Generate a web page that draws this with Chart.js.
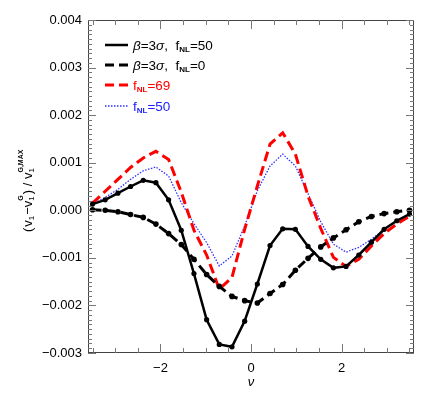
<!DOCTYPE html>
<html>
<head>
<meta charset="utf-8">
<script src="https://cdn.jsdelivr.net/npm/chart.js@4.4.0/dist/chart.umd.min.js"></script>
<style>
  html, body { margin: 0; padding: 0; background: #fff; }
</style>
</head>
<body>
<canvas id="nuChart" width="436" height="393"></canvas>
<script>
  // nu grid of the curves
  var nuValues = [-3.50, -3.22, -2.94, -2.66, -2.38, -2.10, -1.82, -1.54, -1.26, -0.98, -0.70, -0.42, -0.14,
                   0.14,  0.42,  0.70,  0.98,  1.26,  1.54,  1.82,  2.10,  2.38,  2.66,  2.94,  3.22,  3.50];

  // values in units of 1e-3
  var beta3fnl50 = [0.13, 0.22, 0.36, 0.50, 0.63, 0.58, 0.22, -0.42, -1.33, -2.30, -2.82, -2.87, -2.33,
                    -1.55, -0.74, -0.39, -0.40, -0.76, -1.03, -1.21, -1.18, -0.94, -0.67, -0.40, -0.22, -0.08];
  var beta3fnl0  = [0.01, 0.00, -0.03, -0.09, -0.15, -0.29, -0.49, -0.72, -1.03, -1.35, -1.60, -1.81, -1.90,
                    -1.95, -1.75, -1.56, -1.26, -1.01, -0.77, -0.58, -0.41, -0.24, -0.13, -0.07, -0.03, 0.00];
  var fnl69      = [0.15, 0.40, 0.65, 0.90, 1.10, 1.24, 1.07, 0.38, -0.42, -0.94, -1.66, -1.41, -0.40,
                    0.51, 1.39, 1.63, 1.18, 0.30, -0.38, -0.99, -1.18, -1.03, -0.75, -0.49, -0.29, -0.12];
  var fnl50      = [0.12, 0.27, 0.44, 0.65, 0.83, 0.91, 0.72, 0.16, -0.28, -0.68, -1.17, -0.96, -0.33,
                    0.41, 0.93, 1.18, 0.93, 0.35, -0.24, -0.71, -0.88, -0.78, -0.61, -0.40, -0.22, -0.08];

  var xTicks = [-2, 0, 2];
  var yTicks = [-3, -2, -1, 0, 1, 2, 3, 4];

  var FONT = '"Liberation Sans", Arial, sans-serif';

  function pts(arr) {
    return arr.map(function (v, i) { return { x: nuValues[i], y: v }; });
  }

  function minus(s) { return s.replace('-', '\u2212'); }

  // draw a run of text pieces (for sub/superscripts)
  function drawRich(ctx, x, y, parts) {
    parts.forEach(function (p) {
      ctx.font = p.font;
      ctx.fillStyle = p.color;
      ctx.fillText(p.t, x, y + (p.dy || 0));
      var w = ctx.measureText(p.t).width;
      if (p.sup) {
        ctx.font = p.sup.font;
        ctx.fillText(p.sup.t, x, y + p.sup.dy);
        w = Math.max(w, ctx.measureText(p.sup.t).width);
      }
      x += w + (p.gap || 0);
    });
  }

  function fnlParts(prefix, val, color) {
    var f = '13.5px ' + FONT, it = 'italic 13.5px ' + FONT, sm = 'bold 8px ' + FONT;
    var out = [];
    if (prefix) {
      out.push({ t: '\u03b2', font: it, color: color });
      out.push({ t: '=3', font: f, color: color });
      out.push({ t: '\u03c3', font: it, color: color });
      out.push({ t: ',  ', font: f, color: color });
    }
    out.push({ t: 'f', font: f, color: color });
    out.push({ t: 'NL', font: sm, color: color, dy: 2 });
    out.push({ t: '=' + val, font: f, color: color });
    return out;
  }

  var framePlugin = {
    id: 'frame',
    afterDraw: function (chart) {
      var ctx = chart.ctx, a = chart.chartArea;
      var xs = chart.scales.x, ys = chart.scales.y;
      ctx.save();
      ctx.strokeStyle = '#444';
      ctx.lineWidth = 1;
      ctx.strokeRect(a.left + 0.5, a.top + 0.5, a.right - a.left - 1, a.bottom - a.top - 1);

      ctx.strokeStyle = '#777';
      ctx.beginPath();
      // x ticks, major every 2, minor every 0.5
      for (var k = -7; k <= 7; k++) {
        var v = k * 0.5;
        var px = Math.round(xs.getPixelForValue(v)) + 0.5;
        var len = (k % 4 === 0) ? 9 : 5;
        ctx.moveTo(px, a.bottom); ctx.lineTo(px, a.bottom - len);
        ctx.moveTo(px, a.top); ctx.lineTo(px, a.top + len);
      }
      // y ticks, major every 1, minor every 0.1
      for (var j = -30; j <= 40; j++) {
        var py = Math.round(ys.getPixelForValue(j / 10)) + 0.5;
        var l2 = (j % 10 === 0) ? 8 : 4;
        ctx.moveTo(a.left, py); ctx.lineTo(a.left + l2, py);
        ctx.moveTo(a.right, py); ctx.lineTo(a.right - l2, py);
      }
      ctx.stroke();

      // legend
      var rows = [
        { y: 45, color: '#000', dash: [], w: 2.5, parts: fnlParts(true, '50', '#000') },
        { y: 65, color: '#000', dash: [9, 5], w: 3, parts: fnlParts(true, '0', '#000') },
        { y: 85, color: '#ff0000', dash: [9, 5], w: 3, parts: fnlParts(false, '69', '#ff0000') },
        { y: 106, color: '#3030ff', dash: [1.5, 1.5], w: 1.3, parts: fnlParts(false, '50', '#2020ff') }
      ];
      rows.forEach(function (r) {
        ctx.beginPath();
        ctx.setLineDash(r.dash);
        ctx.strokeStyle = r.color;
        ctx.lineWidth = r.w;
        ctx.moveTo(105, r.y); ctx.lineTo(128, r.y);
        ctx.stroke();
        ctx.setLineDash([]);
        drawRich(ctx, 133, r.y + 5, r.parts);
      });

      // y axis title, rotated
      ctx.save();
      ctx.translate(32, 232);
      ctx.rotate(-Math.PI / 2);
      var f = '13px ' + FONT, s = '8px ' + FONT, sb = 'bold 7px ' + FONT;
      drawRich(ctx, 0, 0, [
        { t: '(', font: f, color: '#000', gap: 1 },
        { t: 'v', font: f, color: '#000' },
        { t: '1', font: s, color: '#000', dy: 2, gap: 1 },
        { t: '\u2212', font: f, color: '#000' },
        { t: 'v', font: f, color: '#000' },
        { t: '1', font: s, color: '#000', dy: 2, sup: { t: 'G', font: sb, dy: -9 }, gap: 1 },
        { t: ')', font: f, color: '#000' },
        { t: ' / ', font: f, color: '#000' },
        { t: 'v', font: f, color: '#000' },
        { t: '1', font: s, color: '#000', dy: 2, sup: { t: 'G,MAX', font: sb, dy: -9 } }
      ]);
      ctx.restore();

      // x axis title
      ctx.font = 'italic 13px ' + FONT;
      ctx.fillStyle = '#000';
      ctx.textAlign = 'center';
      ctx.fillText('\u03bd', xs.getPixelForValue(0), 386);
      ctx.restore();
    }
  };

  new Chart('nuChart', {
    type: 'line',
    data: {
      datasets: [
        { data: pts(beta3fnl50), borderColor: '#000', borderWidth: 2.5, pointRadius: 2.6,
          pointBackgroundColor: '#000', pointBorderWidth: 0, tension: 0 },
        { data: pts(beta3fnl0), borderColor: '#000', borderWidth: 3, borderDash: [9, 5], pointRadius: 2.8,
          pointBackgroundColor: '#000', pointBorderWidth: 0, tension: 0 },
        { data: pts(fnl69), borderColor: '#ff0000', borderWidth: 3, borderDash: [10, 5], pointRadius: 0, tension: 0 },
        { data: pts(fnl50), borderColor: '#3030ff', borderWidth: 1.3, borderDash: [1.5, 1.5], pointRadius: 0, tension: 0 }
      ]
    },
    options: {
      responsive: false,
      animation: false,
      layout: { padding: { top: 20, right: 22, left: 0, bottom: 0 } },
      plugins: { legend: { display: false }, tooltip: { enabled: false } },
      scales: {
        x: {
          type: 'linear', min: -3.6, max: 3.6,
          grid: { display: false, drawTicks: false },
          border: { display: false },
          afterBuildTicks: function (s) { s.ticks = xTicks.map(function (v) { return { value: v }; }); },
          afterFit: function (s) { s.height = 40; },
          ticks: { padding: 8, color: '#000', font: { family: FONT, size: 13 },
                   maxRotation: 0, callback: function (v) { return minus(String(v)); } }
        },
        y: {
          min: -3, max: 4,
          grid: { display: false, drawTicks: false },
          border: { display: false },
          afterBuildTicks: function (s) { s.ticks = yTicks.map(function (v) { return { value: v }; }); },
          afterFit: function (s) { s.width = 88; },
          ticks: { padding: 6, color: '#000', font: { family: FONT, size: 13 },
                   callback: function (v) { return minus((v / 1000).toFixed(3)); } }
        }
      }
    },
    plugins: [framePlugin]
  });
</script>
</body>
</html>
